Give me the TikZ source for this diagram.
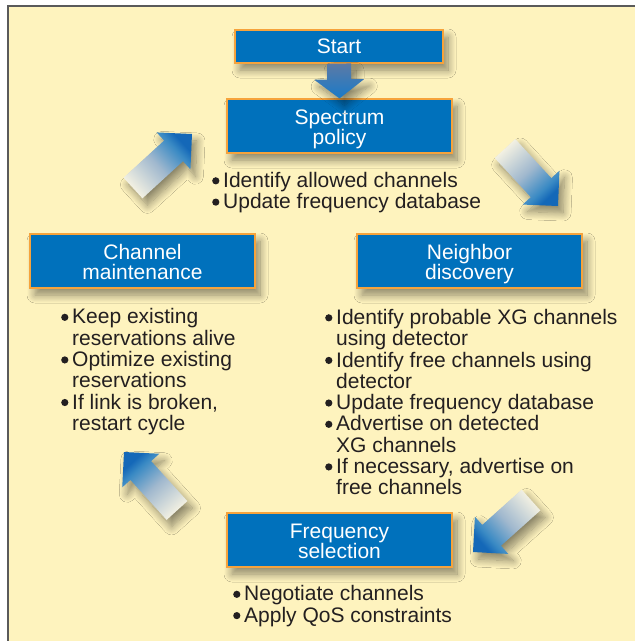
\documentclass[tikz,border=0pt]{standalone}
\usepackage{fontspec}
\setmainfont{Liberation Sans}
\usetikzlibrary{calc,shadows.blur}

\definecolor{cream}{RGB}{254,243,190}
\definecolor{framegray}{RGB}{90,90,90}
\definecolor{boxblue}{RGB}{0,113,188}
\definecolor{boxedge}{RGB}{246,163,60}
\definecolor{ink}{RGB}{35,31,32}
\definecolor{arrowtail}{RGB}{242,240,226}
\definecolor{arrowmid}{RGB}{160,184,206}
\definecolor{arrowhead}{RGB}{58,138,196}
\definecolor{arrowtip}{RGB}{20,104,184}
\definecolor{droptop}{RGB}{92,122,165}
\definecolor{dropbot}{RGB}{25,122,200}

% gradients running from the tail (left) to the tip (right) of a block arrow
\pgfdeclarehorizontalshading{arrowshade}{100bp}{color(0bp)=(arrowtail); color(25bp)=(arrowtail); color(50bp)=(arrowmid); color(68bp)=(arrowhead); color(75bp)=(arrowtip); color(100bp)=(arrowtip)}
\pgfdeclarehorizontalshading{dropshade}{100bp}{color(0bp)=(droptop); color(25bp)=(droptop); color(75bp)=(dropbot); color(100bp)=(dropbot)}

\tikzset{
  softshadow/.style={blur shadow={shadow xshift=5pt, shadow yshift=-7pt,
      shadow blur radius=8pt, shadow blur steps=12, shadow opacity=45}},
  stage/.style={draw=boxedge, line width=1.2pt, fill=boxblue, text=white,
      align=center, font=\fontsize{21}{20}\selectfont,
      minimum width=225pt, minimum height=54pt, inner sep=0pt, softshadow},
  notes/.style={text=ink, align=left, font=\fontsize{21}{21.3}\selectfont,
      inner sep=0pt, anchor=north west},
}

% block arrow: #1 tail, #2 tip, #3 shaft half-width, #4 head half-width,
% #5 head length, #6 shading angle, #7 shading name
\newcommand{\blockarrow}[7]{%
  \coordinate (hb) at ($(#2)!#5!(#1)$);
  \shade[shading=#7, shading angle=#6, softshadow]
    ($(#1)!#3!90:(#2)$) -- ($(hb)!#3!90:(#2)$) -- ($(hb)!#4!90:(#2)$) -- (#2)
    -- ($(hb)!#4!-90:(#2)$) -- ($(hb)!#3!-90:(#2)$) -- ($(#1)!#3!-90:(#2)$) -- cycle;
}

% fixed line height and depth, so every stage label sits alike
\newcommand{\tl}{\rule{0pt}{20.5pt}}
\newcommand{\bl}{\rule[-4.5pt]{0pt}{4.5pt}}

% list bullet and continuation indent
\newcommand{\itm}{\makebox[11pt][l]{\tikz[baseline=0pt]\fill[ink] (3.5pt,6.6pt) circle (3.6pt);}}
\newcommand{\cnt}{\hspace*{11pt}}

\begin{document}
\begin{tikzpicture}[x=1pt,y=-1pt]
  \useasboundingbox (0,0) rectangle (635,641);
  \fill[white] (0,0) rectangle (635,641);
  % panel
  \fill[cream] (8,6) rectangle (636,642);
  \draw[framegray, line width=1.5pt] (8,642) -- (8,6) -- (636,6);

  % stages of the cycle
  \node[stage, minimum width=208pt, minimum height=33pt] (start) at (339,46.5) {\rule{0pt}{16pt}Start\rule[-3pt]{0pt}{3pt}};
  \node[stage] (policy) at (339.5,126) {\tl Spectrum\\policy\bl};
  \node[stage] (maint)  at (142.5,261) {\tl Channel\\maintenance\bl};
  \node[stage] (neigh)  at (469.5,261) {\tl Neighbor\\discovery\bl};
  \node[stage] (freq)   at (339.5,540) {\tl Frequency\\selection\bl};

  % arrow from Start into the cycle
  \blockarrow{start.south}{policy.north}{12pt}{25pt}{19pt}{-90}{dropshade}

  % arrows around the cycle
  \coordinate (a1t) at (133,188);   \coordinate (a1h) at (192,134);
  \coordinate (a2t) at (505,148.5); \coordinate (a2h) at (558,206);
  \coordinate (a3t) at (531,500);   \coordinate (a3h) at (473,552);
  \coordinate (a4t) at (177,510.5); \coordinate (a4h) at (124,452);
  \blockarrow{a1t}{a1h}{14pt}{25pt}{25pt}{42.5}{arrowshade}
  \blockarrow{a2t}{a2h}{14pt}{25pt}{25pt}{-47.3}{arrowshade}
  \blockarrow{a3t}{a3h}{14pt}{25pt}{25pt}{221.9}{arrowshade}
  \blockarrow{a4t}{a4h}{14pt}{25pt}{25pt}{132.2}{arrowshade}

  % task lists
  \node[notes] (policynotes) at (212,172)
    {\itm Identify allowed channels\\
     \itm Update frequency database};
  \node[notes] (maintnotes) at (61,308.5)
    {\itm Keep existing\\
     \cnt reservations alive\\
     \itm Optimize existing\\
     \cnt reservations\\
     \itm If link is broken,\\
     \cnt restart cycle};
  \node[notes] (neighnotes) at (325,309)
    {\itm Identify probable XG channels\\
     \cnt using detector\\
     \itm Identify free channels using\\
     \cnt detector\\
     \itm Update frequency database\\
     \itm Advertise on detected\\
     \cnt XG channels\\
     \itm If necessary, advertise on\\
     \cnt free channels};
  \node[notes] (freqnotes) at (233,585.5)
    {\itm Negotiate channels\\
     \itm Apply QoS constraints};
\end{tikzpicture}
\end{document}
